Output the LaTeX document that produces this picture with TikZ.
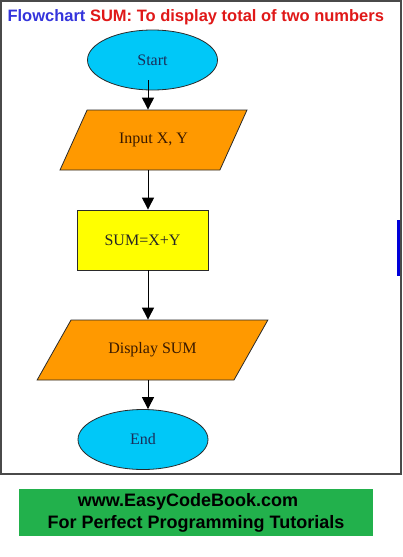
\documentclass[tikz,border=0pt]{standalone}
\usepackage{fontspec}
\setmainfont{Liberation Serif}
\setsansfont{Liberation Sans}
\usetikzlibrary{positioning, shapes.geometric, arrows.meta}
\definecolor{termblue}{HTML}{00C8F8}
\definecolor{ioorange}{HTML}{FF9900}
\definecolor{procyellow}{HTML}{FFFF00}
\definecolor{bannergreen}{HTML}{22B14C}
\definecolor{titleblue}{HTML}{3434DC}
\definecolor{titlered}{HTML}{E01818}
\definecolor{framegray}{HTML}{4A4A4A}
\definecolor{edgeline}{HTML}{2A2A2A}
\definecolor{termtext}{HTML}{1A2E5A}
\definecolor{iotext}{HTML}{3A1A00}

\begin{document}
\begin{tikzpicture}[x=1pt, y=-1pt,
    every node/.style = {font=\fontsize{16}{19}\selectfont},
    term/.style = {ellipse, draw=edgeline, line width=0.8pt, fill=termblue, text=termtext,
        minimum width=130pt, minimum height=60pt, inner sep=0pt},
    io/.style = {trapezium, trapezium left angle=#1, trapezium right angle=180-#1,
        trapezium stretches=true, draw=edgeline, line width=0.8pt, fill=ioorange, text=iotext,
        minimum height=60pt},
    proc/.style = {rectangle, draw=edgeline, line width=0.8pt, fill=procyellow, text=black!85,
        minimum width=131pt, minimum height=60pt},
    flow/.style = {-{Triangle[length=12pt, width=12pt]}, line width=1pt}]

    \path[use as bounding box, fill=white] (0,0) rectangle (403,557);

    % frame and title
    \draw[framegray, line width=1.2pt] (1,1) rectangle (401,474);
    \fill[blue!85!black] (397,220) rectangle (400,276);
    \node[anchor=west, font=\sffamily\bfseries\fontsize{16.5}{20}\selectfont] (title) at (4,17.5)
        {\color{titleblue}Flowchart \color{titlered}SUM: To display total of two numbers};

    % flowchart
    \coordinate (spine) at (148,0);
    \node[term] (start) at (152.5,60) {Start};
    \node[io=53.13, minimum width=187pt] (input) at (153.5,140) {Input X, Y};
    \node[proc] (sum) at (142.5,240) {SUM=X+Y};
    \node[io=47, minimum width=231pt] (display) at (152.5,350) {Display SUM};
    \node[term] (end) at (143,439.5) {End};

    \draw[flow] ([yshift=10pt]start.south -| spine) -- (input.north -| spine);
    \draw[flow] (input.south -| spine) -- (sum.north -| spine);
    \draw[flow] (sum.south -| spine) -- (display.north -| spine);
    \draw[flow] (display.south -| spine) -- (end.north -| spine);

    % banner
    \node[rectangle, fill=bannergreen, minimum width=354pt, minimum height=47pt, align=center,
        font=\sffamily\bfseries\fontsize{18}{22}\selectfont] (banner) at (196,512.5)
        {www.EasyCodeBook.com\hspace*{16pt}\\For Perfect Programming Tutorials};
\end{tikzpicture}
\end{document}
